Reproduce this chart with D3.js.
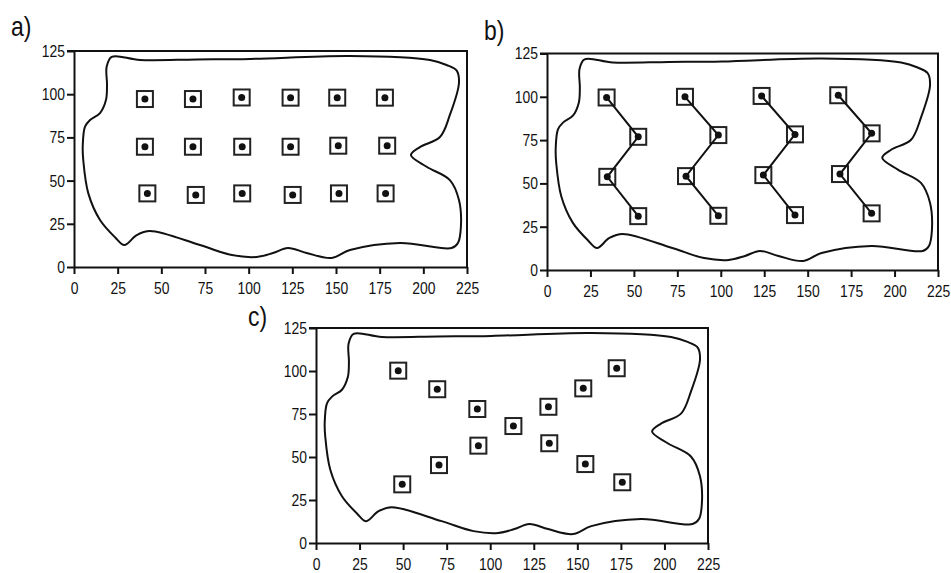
<!DOCTYPE html>
<html>
<head>
<meta charset="utf-8">
<script src="https://cdnjs.cloudflare.com/ajax/libs/d3/7.8.5/d3.min.js"></script>
<style>
  body { margin: 0; background: #fff; }
  svg { display: block; }
  .tick text { font-family: 'Liberation Sans', Arial, sans-serif; font-size: 17px; fill: #111; }
  .lbl { font-family: 'Liberation Sans', Arial, sans-serif; font-size: 28px; fill: #111; }
</style>
</head>
<body>
<script>
// ticks, same on every panel
var xTicks = [0, 25, 50, 75, 100, 125, 150, 175, 200, 225]
var yTicks = [0, 25, 50, 75, 100, 125]

// outline of the region (data units)
var outline = [
  [21.6, 121.6], [37.8, 119.8], [70, 120.1], [100.7, 120.4], [158, 122.1], [203.8, 119.8],
  [213.3, 116.9], [219.1, 113.6], [220.4, 106.5], [215.2, 88], [209.5, 75.2], [198, 69.4],
  [192.9, 64.8], [201.9, 58], [215.2, 50.3], [220.4, 38.8], [221.5, 23.1], [219.8, 13.9],
  [216.2, 11], [186.6, 13.9], [158, 9.8], [147.5, 5.2], [133.2, 8.1], [122.5, 11],
  [113.9, 8.1], [104.6, 5.8], [90.4, 6.9], [72.1, 12.7], [43.5, 20.8], [35.9, 18.5],
  [28.8, 12.7], [23.5, 17.2], [14.9, 27.2], [8.2, 42.6], [5.3, 61.9], [5, 70],
  [6.3, 81.2], [9.2, 85.1], [14.9, 89.1], [18.3, 96.6], [18.9, 105.3], [18.7, 115.9]
]

// a) regular grid
var pointsA = [
  [40.6, 97.2], [68.1, 97.2], [96.0, 98.1], [124.0, 98.0], [150.7, 98.0], [178.0, 98.0],
  [40.6, 69.6], [68.1, 69.6], [96.3, 69.6], [124.0, 69.6], [151.3, 70.2], [179.3, 70.2],
  [42.0, 42.6], [69.7, 41.7], [96.3, 42.6], [125.2, 41.7], [151.7, 42.6], [178.4, 42.6]
]

// b) zig-zag transects, each one drawn top to bottom
var transectsB = [
  [[34.3, 99.6], [52.5, 76.9], [34.7, 53.8], [52.5, 31.1]],
  [[79.4, 100.0], [98.6, 77.9], [80.0, 54.2], [98.6, 31.3]],
  [[123.5, 100.5], [142.7, 78.3], [124.5, 54.8], [142.7, 31.7]],
  [[167.6, 100.9], [186.8, 78.9], [168.6, 55.4], [186.8, 32.7]]
]

// c) scattered
var pointsC = [
  [47.2, 100.2], [69.6, 89.4], [92.6, 77.9], [49.5, 34.1], [70.6, 45.3], [93.2, 56.6],
  [113.3, 68.0], [133.9, 58.0], [133.4, 79.2], [154.6, 45.9], [153.4, 89.9], [175.8, 35.3],
  [172.6, 101.6]
]

var W = 951, H = 573
var NARROW = 0.82   // no narrow font installed, squeeze the regular one
var svg = d3.select("body").append("svg").attr("width", W).attr("height", H)

function panel(name, box, lab, pts, lines) {
  var x = d3.scaleLinear().domain([0, 225]).range([box.l, box.r])
  var y = d3.scaleLinear().domain([0, 125]).range([box.b, box.t])
  var g = svg.append("g")

  // frame (top + right)
  g.append("path")
    .attr("d", "M" + (box.l - 7) + "," + y(125) + "H" + x(225) + "V" + y(0))
    .attr("fill", "none").attr("stroke", "#111").attr("stroke-width", 2)

  var xAxis = d3.axisBottom(x).tickValues(xTicks).tickSize(7).tickPadding(8).tickSizeOuter(0)
  var yAxis = d3.axisLeft(y).tickValues(yTicks).tickSize(7).tickPadding(4).tickSizeOuter(0)

  g.append("g").attr("transform", "translate(0," + box.b + ")").call(xAxis)
  g.append("g").attr("transform", "translate(" + box.l + ",0)").call(yAxis)
  g.selectAll(".domain, .tick line").attr("stroke", "#111").attr("stroke-width", 2)
  g.selectAll(".tick text").attr("transform", "scale(" + NARROW + ",1)")

  var line = d3.line().x(function(d) { return x(d[0]) }).y(function(d) { return y(d[1]) })

  g.append("path")
    .datum(outline)
    .attr("d", line.curve(d3.curveCatmullRomClosed.alpha(0.5)))
    .attr("fill", "none").attr("stroke", "#111").attr("stroke-width", 2)

  g.selectAll("rect.sq").data(pts).enter().append("rect")
    .attr("class", "sq")
    .attr("x", function(d) { return x(d[0]) - 8 })
    .attr("y", function(d) { return y(d[1]) - 8 })
    .attr("width", 16).attr("height", 16)
    .attr("fill", "none").attr("stroke", "#222").attr("stroke-width", 2)

  if (lines) {
    var straight = d3.line().x(function(d) { return x(d[0]) }).y(function(d) { return y(d[1]) })
    g.selectAll("path.tr").data(lines).enter().append("path")
      .attr("class", "tr")
      .attr("d", straight)
      .attr("fill", "none").attr("stroke", "#111").attr("stroke-width", 2)
  }

  g.selectAll("circle").data(pts).enter().append("circle")
    .attr("cx", function(d) { return x(d[0]) })
    .attr("cy", function(d) { return y(d[1]) })
    .attr("r", 3.5).attr("fill", "#111")

  svg.append("text").attr("class", "lbl")
    .attr("transform", "translate(" + lab[0] + "," + lab[1] + ") scale(" + NARROW + ",1)")
    .text(name)
}

panel("a)", {l: 74, r: 467, t: 51, b: 267}, [11, 36], pointsA)
panel("b)", {l: 547, r: 938, t: 53.5, b: 270}, [484, 40], d3.merge(transectsB), transectsB)
panel("c)", {l: 316, r: 708, t: 328, b: 543}, [248, 326], pointsC)
</script>
</body>
</html>
